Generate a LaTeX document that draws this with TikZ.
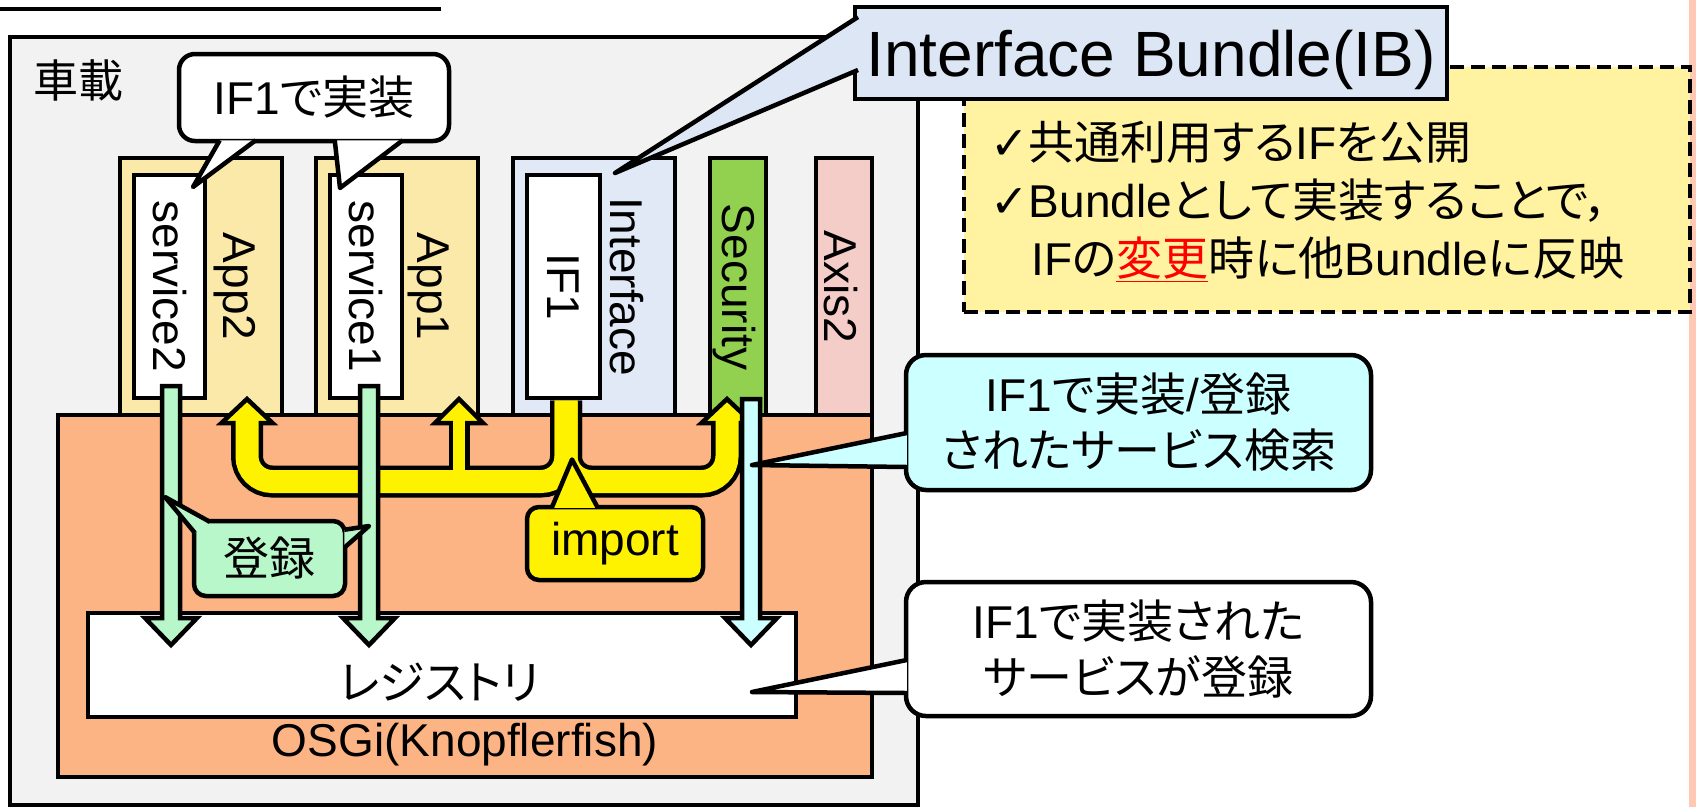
\documentclass[tikz,border=0pt]{standalone}
\usepackage{fontspec}
\setmainfont{Liberation Sans}
\newfontfamily\jpfont{Noto Sans CJK JP}[RawFeature=+palt]
\newfontfamily\checkfont{DejaVu Sans}
\usetikzlibrary{calc, positioning}

\definecolor{carbg}{HTML}{F2F2F2}
\definecolor{appyellow}{HTML}{FBE9A9}
\definecolor{ifblue}{HTML}{E1E8F6}
\definecolor{secgreen}{HTML}{92D050}
\definecolor{axispink}{HTML}{F4CCC8}
\definecolor{osgiorange}{HTML}{FCB484}
\definecolor{greenbg}{HTML}{B7F7C9}
\definecolor{cyanbg}{HTML}{CCFFFF}
\definecolor{ibblue}{HTML}{DDE6F5}
\definecolor{notey}{HTML}{FFF2A1}
\definecolor{stripred}{HTML}{FFC8B4}

% 太い下向き矢印: スタイル, 始点, 先端
\newcommand{\fatarrow}[3]{%
  \filldraw[#1] ($(#2)+(-9,0)$) -- ($(#3)+(-9,-27)$) -- ($(#3)+(-26,-27)$) -- (#3)
    -- ($(#3)+(26,-27)$) -- ($(#3)+(9,-27)$) -- ($(#2)+(9,0)$) -- cycle;}

\begin{document}
\begin{tikzpicture}[x=1pt, y=-1pt, line width=4.5pt]
    \tikzstyle{block} = [rectangle, draw, line width=4.5pt, inner sep=0pt, outer sep=0pt, anchor=north west]
    \tikzstyle{vlabel} = [rotate=-90, inner sep=0pt, font=\fontsize{46}{46}\selectfont]
    \tikzstyle{txt} = [inner sep=0pt, font=\fontsize{46}{56}\selectfont]
    \tikzstyle{bubble} = [rectangle, draw, line width=4.5pt, rounded corners=16pt, inner sep=0pt, align=center, font=\fontsize{46}{56}\selectfont]
    \tikzstyle{bubbletail} = [draw, line width=4.5pt, line join=round]
    \tikzstyle{yedge} = [draw=black, line width=32pt]
    \tikzstyle{yfill} = [draw=yellow, line width=23pt]
    \tikzstyle{yhead} = [fill=yellow, draw=black, line width=4.5pt]

    \useasboundingbox (0,0) rectangle (1696,807);
    \fill[white] (0,0) rectangle (1696,807);
    \fill[stripred] (1689,0) rectangle (1696,807);
    \draw (0,9) -- (441,9);

    % 車載
    \node[block, fill=carbg, minimum width=908pt, minimum height=768pt] (car) at (10,37) {};
    \node[txt, font=\jpfont\fontsize{45}{45}\selectfont] (carname) at (78,80) {車載};

    % バンドル
    \node[block, fill=appyellow, minimum width=162pt, minimum height=270pt] (app2) at (120,158) {};
    \node[block, fill=appyellow, minimum width=162pt, minimum height=270pt, right=34pt of app2] (app1) {};
    \node[block, fill=ifblue, minimum width=162pt, minimum height=270pt, right=35pt of app1] (iface) {};
    \node[block, fill=secgreen, minimum width=56pt, minimum height=270pt, right=35pt of iface] (sec) {};
    \node[block, fill=axispink, minimum width=56pt, minimum height=270pt, right=50pt of sec] (axis) {};

    \node[block, fill=white, minimum width=71pt, minimum height=223pt, below right=17pt and 14pt of app2.north west] (svc2) {};
    \node[block, fill=white, minimum width=72pt, minimum height=223pt, below right=17pt and 14pt of app1.north west] (svc1) {};
    \node[block, fill=white, minimum width=73pt, minimum height=223pt, below right=17pt and 14pt of iface.north west] (if1) {};

    \node[vlabel] (svc2text) at (svc2.center) {service2};
    \node[vlabel] (app2text) at ($(svc2.center)+(65,0)$) {App2};
    \node[vlabel] (svc1text) at (svc1.center) {service1};
    \node[vlabel] (app1text) at ($(svc1.center)+(63,0)$) {App1};
    \node[vlabel] (if1text) at (if1.center) {IF1};
    \node[vlabel] (ifacetext) at ($(if1.center)+(63.5,0)$) {Interface};
    \node[vlabel] (sectext) at ($(sec.north)+(-4,129)$) {Security};
    \node[vlabel] (axistext) at ($(axis.north)+(-3,129)$) {Axis2};

    % OSGi とレジストリ
    \node[block, fill=osgiorange, minimum width=814pt, minimum height=362pt] (osgi) at (58,415) {};
    \node[txt] (osgitext) at ($(osgi.south)+(0,-32)$) {OSGi(Knopflerfish)};
    \node[block, fill=white, minimum width=708pt, minimum height=104pt] (reg) at (88,613) {};
    \node[txt, font=\jpfont\fontsize{46}{46}\selectfont] (regtext) at ($(reg.center)+(-3,17)$) {レジストリ};

    % import の矢印
    \coordinate (ystem) at ($(if1.south)+(2.5,2.5)$);
    \coordinate (yjoin) at ($(ystem)+(0,81)$);
    \coordinate (yleft) at (247,420);
    \coordinate (ymid) at (459,420);
    \coordinate (yright) at (727,420);
    \draw[yedge, rounded corners=25pt] (ystem) -- (yjoin) -| (yleft);
    \draw[yedge, rounded corners=25pt] (ystem) -- (yjoin) -| (yright);
    \draw[yedge, line width=21pt] (ymid |- yjoin) -- (ymid);
    \foreach \p/\w in {yleft/25.5, ymid/24, yright/25.5}
        \filldraw[yhead] ($(\p)+(-\w,3)$) -- ($(\p)+(0,-21)$) -- ($(\p)+(\w,3)$) -- cycle;
    \draw[yfill, rounded corners=25pt] (ystem) -- (yjoin) -| (yleft);
    \draw[yfill, rounded corners=25pt] (ystem) -- (yjoin) -| (yright);
    \draw[yfill, line width=12pt] (ymid |- yjoin) -- (ymid);

    % 登録と検索の矢印
    \coordinate (g1top) at ($(svc2.south)+(1.5,-12)$);
    \coordinate (g2top) at ($(svc1.south)+(3,-12)$);
    \coordinate (c1top) at ($(sec.south)+(13,-29)$);
    \path (g1top |- reg.north) ++(0,32) coordinate (g1tip);
    \path (g2top |- reg.north) ++(0,32) coordinate (g2tip);
    \path (c1top |- reg.north) ++(0,32) coordinate (c1tip);
    \fatarrow{fill=greenbg}{g1top}{g1tip}
    \fatarrow{fill=greenbg}{g2top}{g2tip}
    \fatarrow{fill=cyanbg}{c1top}{c1tip}

    % 吹き出し
    \node[bubble, fill=white, minimum width=270pt, minimum height=87pt] (implnote) at (314,97.5) {IF1{\jpfont で実装}};
    \coordinate (implpt2) at ($(svc2.north east)+(-12,12)$);
    \coordinate (implpt1) at ($(svc1.north west)+(10,13)$);
    \filldraw[bubbletail, fill=white] ($(implnote.south west)+(43,-3)$) -- (implpt2) -- ($(implnote.south west)+(79,-3)$);
    \filldraw[bubbletail, fill=white] ($(implnote.south west)+(158,-3)$) -- (implpt1) -- ($(implnote.south west)+(226,-3)$);

    \node[bubble, fill=greenbg, rounded corners=12pt, minimum width=151pt, minimum height=75pt, font=\jpfont\fontsize{46}{46}\selectfont] (regcall) at (269.5,558.5) {登録};
    \coordinate (regpt1) at ($(g1top)+(-6,111)$);
    \coordinate (regpt2) at ($(g2top)+(0,140)$);
    \filldraw[bubbletail, fill=greenbg] ($(regcall.north west)+(18,3)$) -- (regpt1) -- ($(regcall.north west)+(3,14)$);
    \filldraw[bubbletail, fill=greenbg] ($(regcall.north east)+(-3,11)$) -- (regpt2) -- ($(regcall.north east)+(-3,29)$);

    \node[bubble, fill=yellow, rounded corners=12pt, minimum width=176pt, minimum height=73pt] (impnote) at (615,543.5) {import};
    \coordinate (imppt) at ($(yjoin)+(6,-22)$);
    \filldraw[bubbletail, fill=yellow] ($(impnote.north west)+(27,3)$) -- (imppt) -- ($(impnote.north west)+(73,3)$);

    \node[bubble, fill=cyanbg, rounded corners=20pt, minimum width=465pt, minimum height=135pt] (searchnote) at (1138.5,422.5) {IF1{\jpfont で実装}/{\jpfont 登録}\\{\jpfont されたサービス検索}};
    \coordinate (searchpt) at ($(c1top)+(1,66)$);
    \filldraw[bubbletail, fill=cyanbg] ($(searchnote.west)+(3,10.5)$) -- (searchpt) -- ($(searchnote.west)+(3,44.5)$);

    \node[bubble, fill=white, rounded corners=20pt, minimum width=465pt, minimum height=134pt] (regnote) at (1138.5,649) {IF1{\jpfont で実装された}\\{\jpfont サービスが登録}};
    \coordinate (regpt) at ($(reg.east)+(-44,27)$);
    \filldraw[bubbletail, fill=white] ($(regnote.west)+(3,11)$) -- (regpt) -- ($(regnote.west)+(3,44)$);

    % Interface Bundle の説明
    \node[block, dash pattern=on 14pt off 7pt, line width=4.5pt, fill=notey, minimum width=726pt, minimum height=245pt] (ibnote) at (964,67) {};
    \node[txt, anchor=west, align=left, font=\fontsize{46}{58}\selectfont] (ibnotetext) at ($(ibnote.west)+(24,12)$) {{\checkfont ✓}{\jpfont 共通利用する}IF{\jpfont を公開}\\{\checkfont ✓}Bundle{\jpfont として実装することで，}\\\hspace*{41pt}IF{\jpfont の}\textcolor{red}{\underline{\jpfont 変更}}{\jpfont 時に他}Bundle{\jpfont に反映}};

    \node[block, fill=ibblue, minimum width=592pt, minimum height=92pt, font=\fontsize{64}{64}\selectfont, text depth=0pt] (ib) at (855,7) {Interface Bundle(IB)};
    \coordinate (ibpt) at ($(iface.north)+(21,15)$);
    \filldraw[bubbletail, fill=ibblue] ($(ib.north west)+(3,10)$) -- (ibpt) -- ($(ib.north west)+(3,63)$);
\end{tikzpicture}
\end{document}
